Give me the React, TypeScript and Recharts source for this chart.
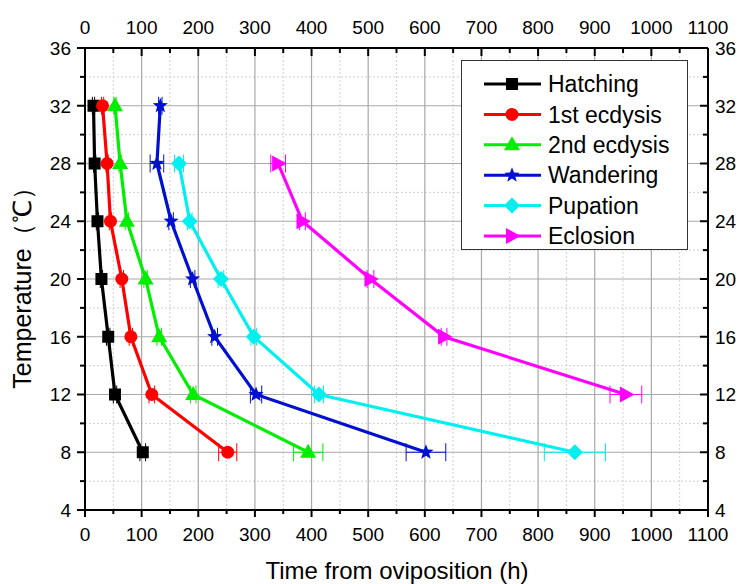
import React from 'react'
import { LineChart, Line, XAxis, YAxis, ErrorBar, CartesianGrid, Legend } from 'recharts'

if (typeof document !== 'undefined') document.body.style.margin = '0'

const FONT = '"Liberation Sans", Arial, sans-serif'

// temperatures (°C), one row per rearing temperature
const temps = [32, 28, 24, 20, 16, 12, 8]

// time from oviposition (h) for each stage
const hatching = [15, 17, 22, 29, 41, 53, 102]
const ecdysis1 = [31, 39, 45, 65, 81, 118, 252]
const ecdysis2 = [53, 62, 74, 107, 131, 191, 394]
const wandering = [133, 127, 152, 190, 229, 302, 602]
const pupation = [null, 166, 185, 240, 298, 413, 865]
const eclosion = [null, 341, 384, 504, 634, 955, null]

// error (h)
const hatchingErr = [2, 2, 2, 2, 3, 3, 5]
const ecdysis1Err = [2, 2, 2, 3, 3, 5, 16]
const ecdysis2Err = [2, 2, 3, 3, 4, 5, 26]
const wanderingErr = [3, 12, 4, 4, 5, 10, 35]
const pupationErr = [null, 8, 4, 5, 5, 8, 54]
const eclosionErr = [null, 13, 5, 6, 5, 28, null]

const xTicks = [0, 50, 100, 150, 200, 250, 300, 350, 400, 450, 500, 550, 600, 650, 700, 750, 800, 850, 900, 950, 1000, 1050, 1100]
const yTicks = [4, 6, 8, 10, 12, 14, 16, 18, 20, 22, 24, 26, 28, 30, 32, 34, 36]
const xMajorGrid = [100, 200, 300, 400, 500, 600, 700, 800, 900, 1000]
const xMinorGrid = [50, 150, 250, 350, 450, 550, 650, 750, 850, 950, 1050]
const yMajorGrid = [8, 12, 16, 20, 24, 28, 32]
const yMinorGrid = [6, 10, 14, 18, 22, 26, 30, 34]

const series = [
  { key: 'hatching', name: 'Hatching', color: '#000000', shape: 'square', values: hatching, err: hatchingErr },
  { key: 'ecdysis1', name: '1st ecdysis', color: '#ff0000', shape: 'circle', values: ecdysis1, err: ecdysis1Err },
  { key: 'ecdysis2', name: '2nd ecdysis', color: '#00ee00', shape: 'triangle', values: ecdysis2, err: ecdysis2Err },
  { key: 'wandering', name: 'Wandering', color: '#0010d0', shape: 'star', values: wandering, err: wanderingErr },
  { key: 'pupation', name: 'Pupation', color: '#00f0f0', shape: 'diamond', values: pupation, err: pupationErr },
  { key: 'eclosion', name: 'Eclosion', color: '#ff00ff', shape: 'rtriangle', values: eclosion, err: eclosionErr },
]

const rows = temps.map((t, i) => {
  const row: any = { temp: t }
  series.forEach((s) => {
    row[s.key] = s.values[i]
    row[s.key + 'Err'] = s.err[i]
  })
  return row
})

function Marker({ shape, cx, cy, color }: any) {
  if (cx == null || cy == null || isNaN(cx) || isNaN(cy)) return <g />
  switch (shape) {
    case 'square':
      return <rect x={cx - 6} y={cy - 6} width={12} height={12} fill={color} />
    case 'circle':
      return <circle cx={cx} cy={cy} r={6.5} fill={color} />
    case 'triangle':
      return <polygon points={`${cx},${cy - 8.5} ${cx + 8},${cy + 5.5} ${cx - 8},${cy + 5.5}`} fill={color} />
    case 'diamond':
      return <polygon points={`${cx},${cy - 8} ${cx + 8},${cy} ${cx},${cy + 8} ${cx - 8},${cy}`} fill={color} />
    case 'rtriangle':
      return <polygon points={`${cx + 8.5},${cy} ${cx - 6},${cy - 8} ${cx - 6},${cy + 8}`} fill={color} />
    case 'star': {
      const pts = []
      for (let k = 0; k < 10; k++) {
        const r = k % 2 === 0 ? 8 : 3.4
        const a = -Math.PI / 2 + (k * Math.PI) / 5
        pts.push(`${cx + r * Math.cos(a)},${cy + r * Math.sin(a)}`)
      }
      return <polygon points={pts.join(' ')} fill={color} />
    }
  }
  return <g />
}

const tickText = { fontSize: 19, fontFamily: FONT, fill: '#000' }

const LeftTick = ({ x, y, payload }: any) => {
  const major = payload.value % 4 === 0
  return (
    <g>
      <line x1={x} x2={x - (major ? 8 : 5)} y1={y} y2={y} stroke="#000" strokeWidth={2} />
      {major && (
        <text x={x - 14} y={y} dy="0.36em" textAnchor="end" style={tickText}>
          {payload.value}
        </text>
      )}
    </g>
  )
}

const RightTick = ({ x, y, payload }: any) => {
  const major = payload.value % 4 === 0
  return (
    <g>
      <line x1={x} x2={x - (major ? 8 : 5)} y1={y} y2={y} stroke="#000" strokeWidth={2} />
      {major && (
        <text x={x + 7} y={y} dy="0.36em" textAnchor="start" style={tickText}>
          {payload.value}
        </text>
      )}
    </g>
  )
}

const TopTick = ({ x, y, payload }: any) => {
  const major = payload.value % 100 === 0
  return (
    <g>
      <line x1={x} x2={x} y1={y} y2={y + (major ? 8 : 5)} stroke="#000" strokeWidth={2} />
      {major && (
        <text x={x} y={y - 21} dy="0.36em" textAnchor="middle" style={tickText}>
          {payload.value}
        </text>
      )}
    </g>
  )
}

const BottomTick = ({ x, y, payload }: any) => {
  const major = payload.value % 100 === 0
  return (
    <g>
      <line x1={x} x2={x} y1={y} y2={y + (major ? 7 : 4)} stroke="#000" strokeWidth={2} />
      {major && (
        <text x={x} y={y + 24} dy="0.36em" textAnchor="middle" style={tickText}>
          {payload.value}
        </text>
      )}
    </g>
  )
}

const XTitle = () => (
  <text x={397} y={570} dy="0.36em" textAnchor="middle" style={{ fontSize: 24, fontFamily: FONT, fill: '#000' }}>
    Time from oviposition (h)
  </text>
)

const YTitle = () => (
  <text
    x={22}
    y={282}
    dy="0.36em"
    transform="rotate(-90 22 282)"
    textAnchor="middle"
    style={{ fontSize: 25, fontFamily: FONT, fill: '#000' }}
  >
    Temperature（℃）
  </text>
)

const LegendBox = () => (
  <div
    style={{
      width: 225,
      height: 188,
      border: '1px solid #333',
      background: '#fff',
    }}
  >
    <svg width={225} height={188}>
      {series.map((s, i) => {
        const y = 23 + i * 30.4
        return (
          <g key={s.key}>
            <line x1={22} x2={79} y1={y} y2={y} stroke={s.color} strokeWidth={3} />
            <Marker shape={s.shape} cx={50} cy={y} color={s.color} />
            <text x={86} y={y} dy="0.36em" style={{ fontSize: 23, fontFamily: FONT, fill: '#000' }}>
              {s.name}
            </text>
          </g>
        )
      })}
    </svg>
  </div>
)

const axisLine = { stroke: '#000', strokeWidth: 2 }

export default function App() {
  return (
    <LineChart
      width={742}
      height={584}
      data={rows}
      layout="vertical"
      margin={{ top: 0, right: 0, bottom: 0, left: 0 }}
      style={{ fontFamily: FONT, background: '#fff' }}
    >
      <CartesianGrid xAxisId="gm" yAxisId="gm" stroke="#d0d0d0" strokeDasharray="2 2" />
      <CartesianGrid xAxisId="gM" yAxisId="gM" stroke="#a8a8a8" strokeWidth={1.2} />

      <XAxis
        xAxisId="b"
        type="number"
        orientation="bottom"
        domain={[0, 1100]}
        ticks={xTicks}
        interval={0}
        height={74}
        tick={<BottomTick />}
        tickLine={false}
        tickSize={0}
        tickMargin={0}
        axisLine={axisLine}
        allowDataOverflow
        label={<XTitle />}
      />
      <XAxis
        xAxisId="t"
        type="number"
        orientation="top"
        domain={[0, 1100]}
        ticks={xTicks}
        interval={0}
        height={48}
        tick={<TopTick />}
        tickLine={false}
        tickSize={0}
        tickMargin={0}
        axisLine={axisLine}
        allowDataOverflow
      />
      <YAxis
        yAxisId="l"
        type="number"
        dataKey="temp"
        orientation="left"
        domain={[4, 36]}
        ticks={yTicks}
        interval={0}
        width={85}
        reversed
        tick={<LeftTick />}
        tickLine={false}
        tickSize={0}
        tickMargin={0}
        axisLine={axisLine}
        allowDataOverflow
        label={<YTitle />}
      />
      <YAxis
        yAxisId="r"
        type="number"
        dataKey="temp"
        orientation="right"
        domain={[4, 36]}
        ticks={yTicks}
        interval={0}
        width={34}
        reversed
        tick={<RightTick />}
        tickLine={false}
        tickSize={0}
        tickMargin={0}
        axisLine={axisLine}
        allowDataOverflow
      />

      {/* hidden axes that only carry grid positions */}
      <XAxis xAxisId="gm" type="number" domain={[0, 1100]} ticks={xMinorGrid} interval={0} height={0} hide allowDataOverflow />
      <XAxis xAxisId="gM" type="number" domain={[0, 1100]} ticks={xMajorGrid} interval={0} height={0} hide allowDataOverflow />
      <YAxis yAxisId="gm" type="number" dataKey="temp" domain={[4, 36]} ticks={yMinorGrid} interval={0} width={0} reversed hide allowDataOverflow />
      <YAxis yAxisId="gM" type="number" dataKey="temp" domain={[4, 36]} ticks={yMajorGrid} interval={0} width={0} reversed hide allowDataOverflow />

      {series.map((s) => (
        <Line
          key={s.key}
          xAxisId="b"
          yAxisId="l"
          dataKey={s.key}
          name={s.name}
          stroke={s.color}
          strokeWidth={3.2}
          isAnimationActive={false}
          dot={(p: any) => <Marker key={s.key + p.index} shape={s.shape} cx={p.cx} cy={p.cy} color={s.color} />}
          activeDot={false}
        >
          <ErrorBar dataKey={s.key + 'Err'} direction="x" width={9} stroke={s.color} strokeWidth={1} />
        </Line>
      ))}

      <Legend
        layout="horizontal"
        verticalAlign="middle"
        align="center"
        content={() => <LegendBox />}
        wrapperStyle={{ position: 'absolute', left: 461, top: 60, width: 227, height: 190 }}
      />
    </LineChart>
  )
}
